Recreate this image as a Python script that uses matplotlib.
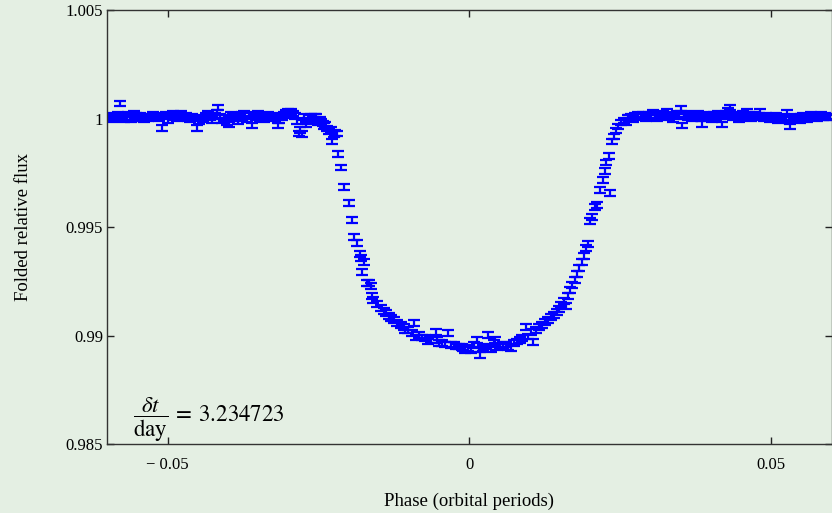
import matplotlib
matplotlib.use("Agg")
import matplotlib.pyplot as plt

# ---------------- data ----------------
phase_pre = [
    -0.0598, -0.0595, -0.0592, -0.0589, -0.0586, -0.0582, -0.0579, -0.0576, -0.0573, -0.0570,
    -0.0566, -0.0563, -0.0560, -0.0556, -0.0553, -0.0550, -0.0546, -0.0543, -0.0539, -0.0536,
    -0.0532, -0.0528, -0.0525, -0.0521, -0.0518, -0.0514, -0.0510, -0.0507, -0.0503, -0.0499,
    -0.0496, -0.0492, -0.0488, -0.0485, -0.0481, -0.0478, -0.0474, -0.0470, -0.0466, -0.0463,
    -0.0459, -0.0455, -0.0452, -0.0448, -0.0444, -0.0441, -0.0437, -0.0433, -0.0430, -0.0426,
    -0.0422, -0.0419, -0.0417, -0.0413, -0.0410, -0.0406, -0.0402, -0.0398, -0.0395, -0.0391,
    -0.0388, -0.0384, -0.0380, -0.0377, -0.0373, -0.0369, -0.0366, -0.0361, -0.0358, -0.0354,
    -0.0351, -0.0347, -0.0343, -0.0340, -0.0336, -0.0333, -0.0329, -0.0325, -0.0322, -0.0318,
    -0.0315, -0.0311, -0.0308, -0.0304, -0.0301, -0.0298, -0.0295, -0.0292, -0.0289, -0.0286,
    -0.0283, -0.0280, -0.0277, -0.0274, -0.0271, -0.0268, -0.0265, -0.0262, -0.0259, -0.0256,
    -0.0254, -0.0251, -0.0248, -0.0246, -0.0243, -0.0241, -0.0239, -0.0236, -0.0233, -0.0230,
    -0.0228, -0.0225, -0.0223, -0.0219,
]
flux_pre = [
    1.00002, 1.00008, 0.99998, 1.00012, 1.00005, 1.00015, 1.00069, 1.00010, 0.99996, 1.00003,
    1.00018, 1.00008, 0.99999, 1.00020, 1.00011, 1.00004, 1.00014, 1.00002, 0.99997, 1.00006,
    1.00001, 1.00009, 1.00016, 1.00007, 1.00012, 1.00003, 0.99958, 1.00010, 1.00019, 0.99993,
    1.00014, 1.00024, 1.00008, 1.00001, 1.00015, 1.00022, 1.00006, 1.00012, 1.00004, 0.99995,
    1.00009, 1.00001, 0.99958, 0.99990, 1.00005, 0.99998, 1.00012, 1.00020, 1.00006, 0.99994,
    1.00011, 1.00028, 1.00051, 1.00009, 0.99991, 1.00003, 0.99985, 0.99972, 1.00018, 1.00010,
    1.00000, 0.99988, 1.00007, 1.00015, 1.00022, 0.99998, 1.00011, 0.99968, 1.00017, 1.00008,
    1.00021, 1.00004, 1.00013, 0.99996, 1.00010, 1.00019, 1.00006, 1.00013, 1.00001, 0.99968,
    0.99993, 1.00007, 1.00015, 1.00026, 1.00030, 1.00022, 1.00031, 1.00024, 1.00012, 0.99990,
    0.99932, 0.99948, 0.99930, 1.00006, 0.99972, 0.99990, 1.00003, 1.00009, 0.99995, 1.00008,
    1.00010, 0.99985, 0.99993, 0.99986, 0.99978, 0.99965, 0.99972, 0.99955, 0.99940, 0.99948,
    0.99894, 0.99928, 0.99935, 0.99931,
]

phase_transit = [
    -0.0218, -0.0213, -0.0208, -0.0200, -0.0195, -0.0191, -0.0186, -0.0182, -0.0180, -0.0178,
    -0.0175, -0.0170, -0.0166, -0.0163, -0.0162, -0.0160, -0.0153, -0.0147, -0.0142, -0.0139,
    -0.0134, -0.0130, -0.0125, -0.0120, -0.0114, -0.0109, -0.0106, -0.0101, -0.0096, -0.0092,
    -0.0089, -0.0084, -0.0079, -0.0073, -0.0068, -0.0063, -0.0056, -0.0054, -0.0051, -0.0046,
    -0.0041, -0.0035, -0.0031, -0.0026, -0.0023, -0.0018, -0.0013, -0.0010, -0.0007, -0.0002,
    0.0003, 0.0008, 0.0012, 0.0015, 0.0018, 0.0023, 0.0028, 0.0031, 0.0035, 0.0040,
    0.0043, 0.0046, 0.0051, 0.0056, 0.0061, 0.0064, 0.0069, 0.0074, 0.0079, 0.0083,
    0.0087, 0.0094, 0.0097, 0.0102, 0.0106, 0.0111, 0.0116, 0.0120, 0.0125, 0.0130,
    0.0135, 0.0140, 0.0145, 0.0149, 0.0152, 0.0157, 0.0160, 0.0163, 0.0167, 0.0170,
    0.0175, 0.0178, 0.0182, 0.0186, 0.0190, 0.0193, 0.0196, 0.0200, 0.0203, 0.0208,
    0.0211, 0.0216, 0.0221, 0.0224, 0.0226, 0.0231, 0.0233, 0.0236, 0.0239, 0.0243,
    0.0246, 0.0251, 0.0256, 0.0259, 0.0262,
]
flux_transit = [
    0.99838, 0.99774, 0.99686, 0.99612, 0.99533, 0.99455, 0.99427, 0.99376, 0.99358, 0.99293,
    0.99339, 0.99242, 0.99242, 0.99228, 0.99182, 0.99164, 0.99145, 0.99127, 0.99113, 0.99104,
    0.99090, 0.99081, 0.99071, 0.99058, 0.99048, 0.99039, 0.99025, 0.99025, 0.99011, 0.99058,
    0.98992, 0.99002, 0.98992, 0.98988, 0.98974, 0.98979, 0.99016, 0.98979, 0.98965, 0.98965,
    0.98960, 0.99011, 0.98956, 0.98960, 0.98951, 0.98951, 0.98947, 0.98942, 0.98933, 0.98942,
    0.98933, 0.98956, 0.98979, 0.98937, 0.98910, 0.98942, 0.98951, 0.99002, 0.98937, 0.98965,
    0.98979, 0.98947, 0.98951, 0.98956, 0.98960, 0.98947, 0.98942, 0.98965, 0.98974, 0.98979,
    0.98988, 0.99039, 0.98997, 0.99016, 0.98970, 0.99025, 0.99039, 0.99048, 0.99062, 0.99071,
    0.99085, 0.99094, 0.99108, 0.99122, 0.99141, 0.99159, 0.99136, 0.99182, 0.99210, 0.99233,
    0.99256, 0.99284, 0.99312, 0.99339, 0.99367, 0.99404, 0.99423, 0.99529, 0.99547, 0.99593,
    0.99603, 0.99672, 0.99718, 0.99760, 0.99797, 0.99829, 0.99658, 0.99894, 0.99917, 0.99945,
    0.99963, 0.99982, 0.99991, 0.99982, 1.00005,
]

phase_post = [
    0.0265, 0.0268, 0.0271, 0.0274, 0.0277, 0.0280, 0.0284, 0.0287, 0.0290, 0.0293,
    0.0297, 0.0300, 0.0304, 0.0307, 0.0310, 0.0314, 0.0317, 0.0320, 0.0324, 0.0328,
    0.0331, 0.0334, 0.0338, 0.0341, 0.0344, 0.0347, 0.0350, 0.0352, 0.0355, 0.0358,
    0.0362, 0.0365, 0.0368, 0.0371, 0.0375, 0.0378, 0.0381, 0.0384, 0.0386, 0.0389,
    0.0392, 0.0396, 0.0399, 0.0402, 0.0405, 0.0409, 0.0412, 0.0415, 0.0419, 0.0422,
    0.0425, 0.0428, 0.0431, 0.0434, 0.0437, 0.0440, 0.0444, 0.0447, 0.0450, 0.0453,
    0.0457, 0.0460, 0.0463, 0.0466, 0.0470, 0.0473, 0.0476, 0.0479, 0.0482, 0.0485,
    0.0488, 0.0492, 0.0495, 0.0498, 0.0501, 0.0505, 0.0508, 0.0511, 0.0514, 0.0518,
    0.0521, 0.0524, 0.0526, 0.0529, 0.0531, 0.0534, 0.0537, 0.0540, 0.0544, 0.0547,
    0.0550, 0.0553, 0.0557, 0.0560, 0.0563, 0.0566, 0.0570, 0.0573, 0.0576, 0.0579,
    0.0583, 0.0586, 0.0589, 0.0592, 0.0595, 0.0598,
]
flux_post = [
    1.00002, 1.00010, 0.99996, 1.00012, 1.00006, 1.00015, 1.00009, 1.00018, 1.00011, 1.00004,
    1.00016, 1.00008, 1.00028, 1.00013, 1.00003, 1.00017, 1.00010, 1.00021, 1.00012, 1.00030,
    1.00008, 1.00016, 0.99998, 1.00014, 1.00022, 1.00010, 1.00046, 0.99968, 1.00012, 1.00020,
    1.00006, 1.00015, 1.00001, 1.00018, 1.00009, 1.00024, 1.00012, 1.00003, 0.99975, 1.00014,
    1.00007, 1.00019, 1.00010, 0.99999, 1.00016, 1.00008, 1.00020, 1.00011, 0.99972, 1.00013,
    1.00024, 1.00035, 1.00051, 1.00014, 1.00006, 1.00017, 1.00009, 0.99998, 1.00012, 1.00020,
    1.00007, 1.00033, 1.00015, 1.00003, 1.00012, 1.00018, 1.00008, 1.00014, 1.00032, 1.00010,
    1.00002, 1.00011, 1.00006, 0.99996, 1.00009, 1.00003, 1.00012, 0.99994, 1.00005, 0.99999,
    1.00008, 1.00001, 1.00028, 0.99992, 0.99963, 1.00004, 0.99997, 1.00009, 1.00002, 0.99994,
    1.00006, 1.00012, 1.00004, 0.99999, 1.00010, 1.00015, 1.00007, 1.00013, 1.00004, 1.00011,
    1.00016, 1.00008, 1.00012, 1.00005, 1.00010, 1.00007,
]

flux_error = 0.00013

x_ticks = [-0.05, 0.0, 0.05]
x_tick_labels = ["\u2212 0.05", "0", "0.05"]
y_ticks = [0.985, 0.99, 0.995, 1.0, 1.005]
y_tick_labels = ["0.985", "0.99", "0.995", "1", "1.005"]

phase = phase_pre + phase_transit + phase_post
flux = flux_pre + flux_transit + flux_post

# ---------------- style ----------------
bg = "#e4efe3"
plt.rcParams["font.family"] = ["Liberation Serif", "DejaVu Serif"]
plt.rcParams["mathtext.fontset"] = "stix"

fig = plt.figure(figsize=(8.32, 5.13), dpi=100, facecolor=bg)
ax = fig.add_axes([0.129, 0.134, 0.8705, 0.8465])
ax.set_facecolor(bg)

ax.errorbar(phase, flux, yerr=flux_error, fmt="none", ecolor="#0000ff",
            elinewidth=1.6, capsize=4.3, capthick=1.6)

ax.set_xlim(-0.06, 0.06)
ax.set_ylim(0.985, 1.005)
ax.set_xticks(x_ticks)
ax.set_xticklabels(x_tick_labels)
ax.set_yticks(y_ticks)
ax.set_yticklabels(y_tick_labels)
ax.tick_params(direction="in", length=5, width=1.0, colors="#222222",
               labelcolor="black", labelsize=12, top=True, right=True)
ax.tick_params(axis="x", pad=9)
ax.tick_params(axis="y", pad=3)
for s in ax.spines.values():
    s.set_color("#333333")
    s.set_linewidth(1.0)

ax.set_xlabel("Phase (orbital periods)", fontsize=13.5, labelpad=14)
ax.set_ylabel("Folded relative flux", fontsize=13.5, labelpad=24)

ax.text(0.036, 0.051, r"$\dfrac{\delta t}{\mathrm{day}}\:=\:3.234723$",
        transform=ax.transAxes, fontsize=16.5, ha="left", va="baseline")

fig.savefig("out.png", dpi=100, facecolor=bg)
